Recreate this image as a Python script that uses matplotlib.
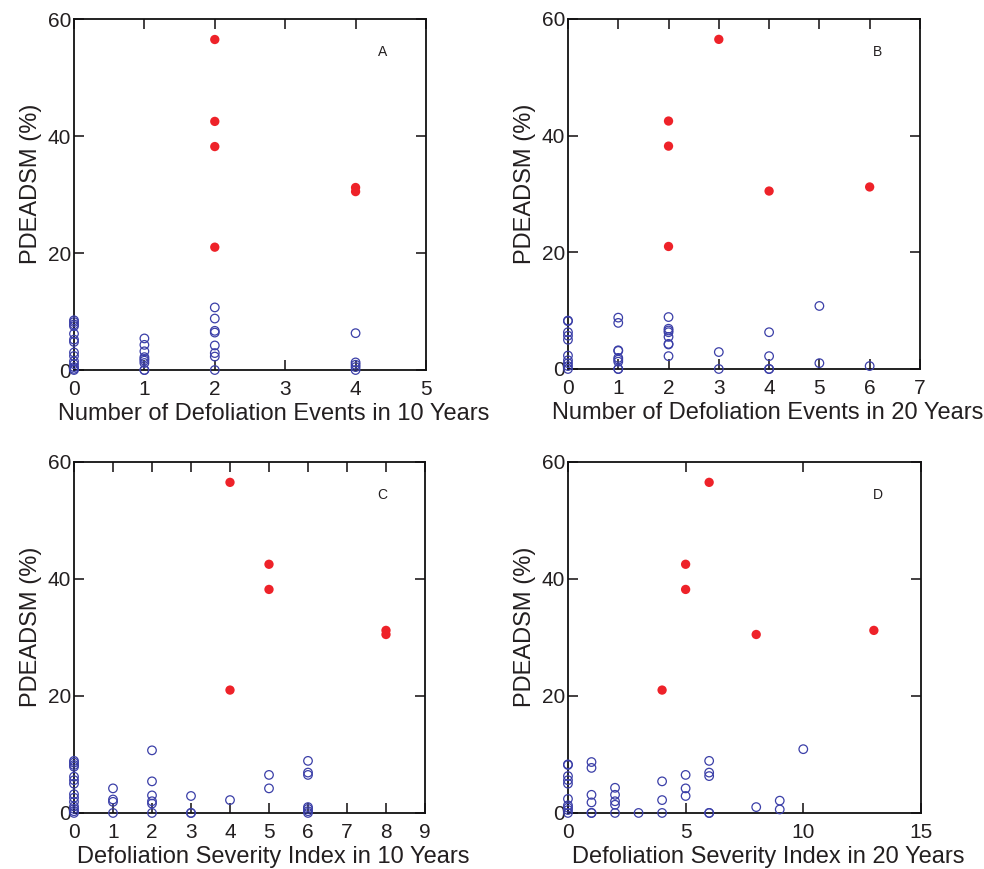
import matplotlib.pyplot as plt

plt.rcParams["font.family"] = ["Liberation Sans", "DejaVu Sans"]

RED = "#ee2229"
BLUE = "#3b3fa8"
INK = "#231f20"

# Panel A: number of defoliation events in 10 years
a_red_x = [2, 2, 2, 2, 4, 4]
a_red_y = [56.5, 42.5, 38.2, 21.0, 31.2, 30.5]
a_blue_x = [0] * 14 + [1] * 9 + [2] * 8 + [4] * 5
a_blue_y = [8.5, 8.2, 7.8, 7.5, 6.2, 5.2, 4.8, 3.0, 2.4, 1.5, 1.0, 0.5, 0.2, 0.0,
            5.4, 4.3, 3.2, 2.2, 1.9, 1.6, 1.2, 0.0, 0.0,
            10.7, 8.8, 6.7, 6.4, 4.2, 2.9, 2.3, 0.0,
            6.3, 1.3, 0.9, 0.5, 0.0]

# Panel B: number of defoliation events in 20 years
b_red_x = [2, 2, 2, 3, 4, 6]
b_red_y = [42.5, 38.2, 21.0, 56.5, 30.5, 31.2]
b_blue_x = [0] * 10 + [1] * 9 + [2] * 8 + [3] * 2 + [4] * 4 + [5] * 2 + [6]
b_blue_y = [8.3, 8.2, 6.3, 5.7, 5.0, 2.3, 1.5, 1.0, 0.5, 0.0,
            8.8, 7.9, 3.2, 3.1, 1.9, 1.6, 1.25, 0.0, 0.0,
            8.9, 6.9, 6.6, 6.3, 5.5, 4.3, 4.2, 2.2,
            2.9, 0.0,
            6.3, 2.2, 0.0, 0.0,
            10.8, 1.0,
            0.5]

# Panel C: defoliation severity index in 10 years
c_red_x = [4, 4, 5, 5, 8, 8]
c_red_y = [56.5, 21.0, 42.5, 38.2, 31.2, 30.5]
c_blue_x = [0] * 14 + [1] * 4 + [2] * 6 + [3] * 3 + [4] + [5] * 2 + [6] * 7
c_blue_y = [8.9, 8.6, 8.2, 7.9, 6.2, 5.6, 5.0, 3.2, 2.6, 1.9, 1.1, 0.7, 0.3, 0.0,
            4.2, 2.3, 1.9, 0.0,
            10.7, 5.4, 3.0, 2.0, 1.6, 0.0,
            2.9, 0.0, 0.0,
            2.2,
            6.5, 4.2,
            8.9, 6.9, 6.5, 1.0, 0.7, 0.3, 0.0]

# Panel D: defoliation severity index in 20 years
d_red_x = [4, 5, 5, 6, 8, 13]
d_red_y = [21.0, 42.5, 38.2, 56.5, 30.5, 31.2]
d_blue_x = ([0] * 10 + [1] * 6 + [2] * 5 + [3] + [4] * 3 + [5] * 3 + [6] * 5
            + [8] + [9] * 2 + [10])
d_blue_y = [8.3, 8.2, 6.3, 5.6, 5.0, 2.4, 1.3, 0.9, 0.5, 0.0,
            8.7, 7.7, 3.1, 1.8, 0.0, 0.0,
            4.3, 3.1, 2.0, 1.4, 0.0,
            0.0,
            5.4, 2.2, 0.0,
            6.5, 4.2, 2.9,
            8.9, 6.9, 6.3, 0.0, 0.0,
            1.0,
            2.1, 0.6,
            10.9]

panels = [
    ("A", [0.0752, 0.5742, 0.3577, 0.4039], 5, list(range(0, 6)),
     "Number of Defoliation Events in 10 Years", a_red_x, a_red_y, a_blue_x, a_blue_y),
    ("B", [0.5772, 0.5754, 0.3577, 0.4028], 7, list(range(0, 8)),
     "Number of Defoliation Events in 20 Years", b_red_x, b_red_y, b_blue_x, b_blue_y),
    ("C", [0.0752, 0.0645, 0.3567, 0.4040], 9, list(range(0, 10)),
     "Defoliation Severity Index in 10 Years", c_red_x, c_red_y, c_blue_x, c_blue_y),
    ("D", [0.5772, 0.0645, 0.3587, 0.4040], 15, [0, 5, 10, 15],
     "Defoliation Severity Index in 20 Years", d_red_x, d_red_y, d_blue_x, d_blue_y),
]

fig = plt.figure(figsize=(9.84, 8.69), dpi=100)

for label, rect, xmax, xticks, xlabel, rx, ry, bx, by in panels:
    ax = fig.add_axes(rect)
    ax.scatter(bx, by, s=38, facecolors="none", edgecolors=BLUE,
               linewidths=0.9, clip_on=False, zorder=3)
    ax.scatter(rx, ry, s=45, color=RED, edgecolors="none",
               clip_on=False, zorder=3)
    ax.set_xlim(0, xmax)
    ax.set_ylim(0, 60)
    ax.set_xticks(xticks)
    ax.set_yticks([0, 20, 40, 60])
    ax.tick_params(direction="in", top=True, right=True, length=7,
                   width=1.2, labelsize=15, colors=INK)
    ax.tick_params(axis="x", pad=7)
    ax.tick_params(axis="y", pad=2)
    for spine in ax.spines.values():
        spine.set_linewidth(1.3)
        spine.set_color("#111111")
    ax.set_xlabel(xlabel, fontsize=17, labelpad=3, color=INK)
    ax.set_ylabel("PDEADSM (%)", fontsize=17, labelpad=4, color=INK)
    # labels in the reference sit off-centre (right / up)
    ax.xaxis.label.set_x(0.568)
    ax.yaxis.label.set_y(0.53)
    ax.text(0.878, 0.906, label, transform=ax.transAxes, fontsize=10,
            ha="center", va="center", color=INK)

fig.savefig("out.png", dpi=100)
